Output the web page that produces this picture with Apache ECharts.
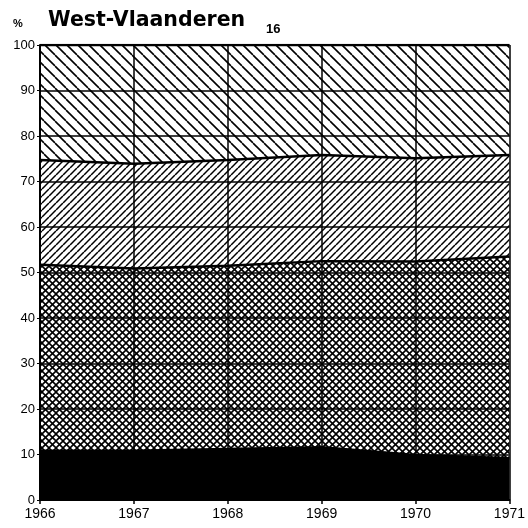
<!DOCTYPE html>
<html>
<head>
<meta charset="utf-8">
<script src="https://cdn.jsdelivr.net/npm/echarts@6/dist/echarts.min.js"></script>
<style>
  html, body { margin: 0; padding: 0; background: #fff; }
  #main { width: 528px; height: 528px; }
</style>
</head>
<body>
<div id="main"></div>
<script>
var years = ['1966', '1967', '1968', '1969', '1970', '1971'];
// layer thicknesses in %, bottom to top
var solid = [10.8, 10.8, 11.2, 11.6, 9.9, 9.2];
var crossed = [40.9, 40.1, 40.3, 40.9, 42.5, 44.3];
var hatched = [23.0, 23.0, 23.2, 23.3, 22.7, 22.3];
var backHatched = [25.3, 26.1, 25.3, 24.2, 24.9, 24.2];

function hatch(p, dirs, w) {
    var c = document.createElement('canvas');
    c.width = p; c.height = p;
    var g = c.getContext('2d');
    g.strokeStyle = '#000';
    g.lineWidth = w;
    dirs.forEach(function (d) {
        for (var k = -1; k <= 1; k++) {
            g.beginPath();
            if (d === '/') {
                g.moveTo(k * p, p); g.lineTo(k * p + p, 0);
            } else {
                g.moveTo(k * p, 0); g.lineTo(k * p + p, p);
            }
            g.stroke();
        }
    });
    return { image: c, repeat: 'repeat' };
}

function layer(name, data, fill) {
    return {
        name: name,
        type: 'line',
        stack: 'total',
        data: data,
        symbol: 'none',
        lineStyle: { color: '#000', width: 2.5 },
        areaStyle: { color: fill, opacity: 1 },
        z: 2
    };
}

var chart = echarts.init(document.getElementById('main'));
chart.setOption({
    animation: false,
    backgroundColor: '#fff',
    grid: { left: 40, right: 14, top: 45, bottom: 28 },
    graphic: [
        { type: 'text', left: 13, top: 18, style: { text: '%', font: 'bold 11px "Liberation Sans", Arial', fill: '#000' } },
        { type: 'text', left: 48, top: 10, style: { text: 'West-Vlaanderen', font: 'bold 20.5px "DejaVu Sans"', fill: '#000' } },
        { type: 'text', left: 266, top: 23, style: { text: '16', font: 'bold 13px "Liberation Sans", Arial', fill: '#000' } }
    ],
    xAxis: {
        type: 'category',
        data: years,
        boundaryGap: false,
        axisLine: { lineStyle: { color: '#000', width: 2 } },
        axisTick: { show: true, length: 4, lineStyle: { color: '#000', width: 1.5 } },
        axisLabel: { color: '#000', fontSize: 14, fontFamily: '"Liberation Sans", Arial', margin: 7 },
        splitLine: { show: true, lineStyle: { color: '#000', width: 1.5 } }
    },
    yAxis: {
        type: 'value',
        min: 0, max: 100, interval: 10,
        axisLine: { show: true, lineStyle: { color: '#000', width: 2 } },
        axisTick: { show: true, length: 3, lineStyle: { color: '#000' } },
        axisLabel: { color: '#000', fontSize: 13, fontFamily: '"Liberation Sans", Arial', margin: 5 },
        splitLine: { show: true, lineStyle: { color: '#000', width: 1.5 } }
    },
    series: [
        layer('a', solid, '#000'),
        layer('b', crossed, hatch(7, ['/', '\\'], 1.6)),
        layer('c', hatched, hatch(7, ['/'], 1.5)),
        layer('d', backHatched, hatch(11, ['\\'], 1.6))
    ]
});
</script>
</body>
</html>
